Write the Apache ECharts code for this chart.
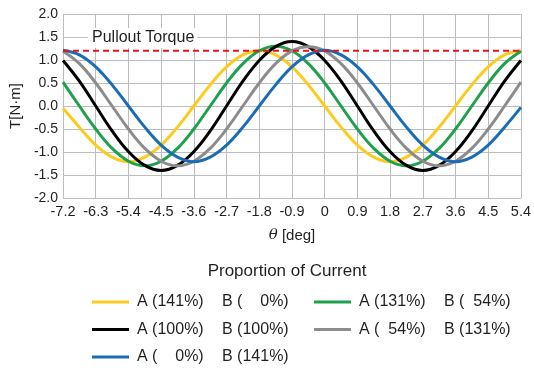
<!DOCTYPE html>
<html>
<head>
<meta charset="utf-8">
<script src="https://cdn.jsdelivr.net/npm/echarts@6/dist/echarts.min.js"></script>
<style>
  html, body { margin: 0; padding: 0; background: #fff; }
  #chart { width: 534px; height: 369px; }
</style>
</head>
<body>
<div id="chart"></div>
<script>
// rotor angle [deg]
const theta = [-7.2, -6.75, -6.3, -5.85, -5.4, -4.95, -4.5, -4.05, -3.6, -3.15, -2.7, -2.25, -1.8, -1.35, -0.9, -0.45,
  0, 0.45, 0.9, 1.35, 1.8, 2.25, 2.7, 3.15, 3.6, 4.05, 4.5, 4.95, 5.4];

// torque [N·m]
const torqueA141 = [-0.05, -0.46, -0.85, -1.11, -1.21, -1.11, -0.85, -0.46, 0, 0.46, 0.85, 1.11, 1.2, 1.11, 0.85, 0.46,
  0, -0.46, -0.85, -1.11, -1.21, -1.11, -0.85, -0.46, 0, 0.46, 0.85, 1.11, 1.2];
const torqueA131 = [0.52, 0, -0.5, -0.92, -1.2, -1.3, -1.2, -0.92, -0.5, 0, 0.5, 0.92, 1.2, 1.3, 1.2, 0.92,
  0.5, 0, -0.5, -0.92, -1.2, -1.3, -1.2, -0.92, -0.5, 0, 0.5, 0.92, 1.19];
const torqueA100 = [0.99, 0.54, 0, -0.54, -0.99, -1.29, -1.4, -1.29, -0.99, -0.54, 0, 0.54, 0.99, 1.29, 1.4, 1.29,
  0.99, 0.54, 0, -0.54, -0.99, -1.29, -1.4, -1.29, -0.99, -0.54, 0, 0.54, 0.99];
const torqueA54 = [1.19, 0.92, 0.5, 0, -0.5, -0.92, -1.2, -1.3, -1.2, -0.92, -0.5, 0, 0.5, 0.92, 1.2, 1.29,
  1.2, 0.92, 0.5, 0, -0.5, -0.92, -1.2, -1.3, -1.2, -0.92, -0.5, 0, 0.52];
const torqueA0 = [1.21, 1.11, 0.85, 0.46, 0, -0.46, -0.85, -1.11, -1.21, -1.11, -0.85, -0.46, 0, 0.46, 0.85, 1.11,
  1.21, 1.11, 0.85, 0.46, 0, -0.46, -0.85, -1.11, -1.21, -1.11, -0.85, -0.46, -0.03];

const pulloutTorque = 1.2;
const pulloutLabel = "Pullout Torque";
const legendTitle = "Proportion of Current";

// legend text, A part and B part
const labelsA = ["A (141%)", "A (131%)", "A (100%)", "A (  54%)", "A (    0%)"];
const labelsB = ["B (    0%)", "B (  54%)", "B (100%)", "B (131%)", "B (141%)"];
const colors = ["#fccb1e", "#1fa04c", "#000000", "#8c8c8c", "#1a6db4"];
const torques = [torqueA141, torqueA131, torqueA100, torqueA54, torqueA0];

const names = labelsA.map((a, i) => a + "|" + labelsB[i]);
const font = "Liberation Sans, Arial, sans-serif";
const textColor = "#231f20";
const gridColor = "#bdbdbd";

const curveSeries = torques.map((t, i) => ({
  name: names[i],
  type: "line",
  data: theta.map((x, j) => [x, t[j]]),
  smooth: 0.4,
  showSymbol: false,
  color: colors[i],
  lineStyle: { width: 3, color: colors[i] },
  z: 2,
}));

const legendBase = {
  orient: "vertical",
  icon: "rect",
  itemWidth: 37,
  itemHeight: 3,
  itemGap: 11.5,
  top: 294,
  padding: 0,
  height: 74,
  selectedMode: false,
  formatter: (name) => {
    const p = name.split("|");
    return "{a|" + p[0] + "}{b|" + p[1] + "}";
  },
  textStyle: {
    padding: [0, 0, 0, 3],
    rich: {
      a: { fontFamily: font, fontSize: 16, color: textColor, width: 85, lineHeight: 16 },
      b: { fontFamily: font, fontSize: 16, color: textColor, lineHeight: 16 },
    },
  },
};

const chart = echarts.init(document.getElementById("chart"));
chart.setOption({
  animation: false,
  backgroundColor: "#fff",
  grid: { left: 57, right: 10, top: 14, bottom: 171 },
  xAxis: {
    type: "value",
    min: -7.2,
    max: 5.4,
    interval: 0.9,
    name: "{i|θ} [deg]",
    nameLocation: "middle",
    nameGap: 30,
    nameTextStyle: {
      fontFamily: font,
      fontSize: 15,
      color: textColor,
      rich: { i: { fontFamily: "DejaVu Serif, serif", fontStyle: "italic", fontSize: 15, color: textColor } },
    },
    axisLine: { lineStyle: { color: gridColor } },
    axisTick: { show: true, length: 3, lineStyle: { color: gridColor } },
    axisLabel: {
      fontFamily: font,
      fontSize: 14.5,
      color: textColor,
      margin: 6,
      formatter: (v) => (Math.abs(v) < 1e-9 ? "0" : v.toFixed(1)),
    },
    splitLine: { show: true, lineStyle: { color: gridColor, width: 1 } },
  },
  yAxis: {
    type: "value",
    min: -2,
    max: 2,
    interval: 0.5,
    name: "T[N·m]",
    nameLocation: "middle",
    nameRotate: 90,
    nameGap: 33,
    nameTextStyle: { fontFamily: font, fontSize: 15, color: textColor },
    axisLine: { show: true, lineStyle: { color: gridColor } },
    axisTick: { show: true, length: 3, lineStyle: { color: gridColor } },
    axisLabel: {
      fontFamily: font,
      fontSize: 14,
      color: textColor,
      margin: 5,
      formatter: (v) => v.toFixed(1),
    },
    splitLine: { show: true, lineStyle: { color: gridColor, width: 1 } },
  },
  legend: [
    Object.assign({}, legendBase, { left: 92, data: [names[0], names[2], names[4]] }),
    Object.assign({}, legendBase, { left: 314, data: [names[1], names[3]] }),
  ],
  graphic: [
    {
      type: "text",
      x: 88,
      y: 38,
      z: 10,
      style: {
        text: pulloutLabel,
        fontFamily: font,
        fontSize: 16,
        fill: textColor,
        align: "left",
        verticalAlign: "middle",
        backgroundColor: "#fff",
        padding: [2, 3, 2, 4],
      },
    },
    {
      type: "text",
      x: 287,
      y: 271,
      style: {
        text: legendTitle,
        fontFamily: font,
        fontSize: 17,
        fill: textColor,
        align: "center",
        verticalAlign: "middle",
      },
    },
  ],
  series: curveSeries.concat([
    {
      name: pulloutLabel,
      type: "line",
      data: [[-7.2, pulloutTorque], [5.4, pulloutTorque]],
      showSymbol: false,
      silent: true,
      lineStyle: { color: "#e8121c", width: 2, type: [6, 4] },
      z: 3,
    },
  ]),
});
</script>
</body>
</html>
